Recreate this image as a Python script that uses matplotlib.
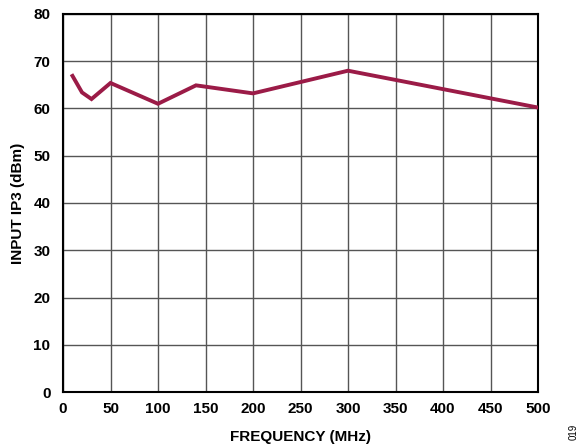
import matplotlib
matplotlib.use("Agg")
import matplotlib.pyplot as plt

freq_mhz = [10, 20, 30, 50, 100, 140, 200, 300, 500]
ip3_dbm = [66.9, 63.4, 62.0, 65.4, 61.0, 64.9, 63.2, 68.0, 60.2]
x_ticks = list(range(0, 501, 50))
y_ticks = list(range(0, 81, 10))

plt.rcParams['font.family'] = ['Liberation Sans', 'DejaVu Sans']
fig = plt.figure(figsize=(5.87, 4.47), dpi=100)
ax = fig.add_axes([63/587, 1 - 392/447, 475/587, 378/447])

ax.plot(freq_mhz, ip3_dbm, color='#9B1B47', linewidth=2.8, solid_joinstyle='miter', zorder=3)
ax.set_xlim(0, 500)
ax.set_ylim(0, 80)
ax.set_xticks(x_ticks)
ax.set_yticks(y_ticks)
ax.grid(True, color='#555555', linewidth=1.0)
ax.set_axisbelow(True)
for s in ax.spines.values():
    s.set_linewidth(1.5)
    s.set_color('black')
ax.tick_params(axis='x', length=0, labelsize=11, pad=7)
ax.tick_params(axis='y', length=0, labelsize=11, pad=9)
for lab in ax.get_xticklabels() + ax.get_yticklabels():
    lab.set_fontweight('bold')
fig.text(300/587, 1 - 437/447, 'FREQUENCY (MHz)', fontsize=11, fontweight='bold', ha='center', va='center')
fig.text(18/587, 1 - 203/447, 'INPUT IP3 (dBm)', fontsize=11, fontweight='bold', ha='center', va='center', rotation=90)
fig.text(574/587, 1 - 432/447, '019', rotation=90, fontsize=7, ha='center', va='center')
fig.savefig('out.png', dpi=100)
